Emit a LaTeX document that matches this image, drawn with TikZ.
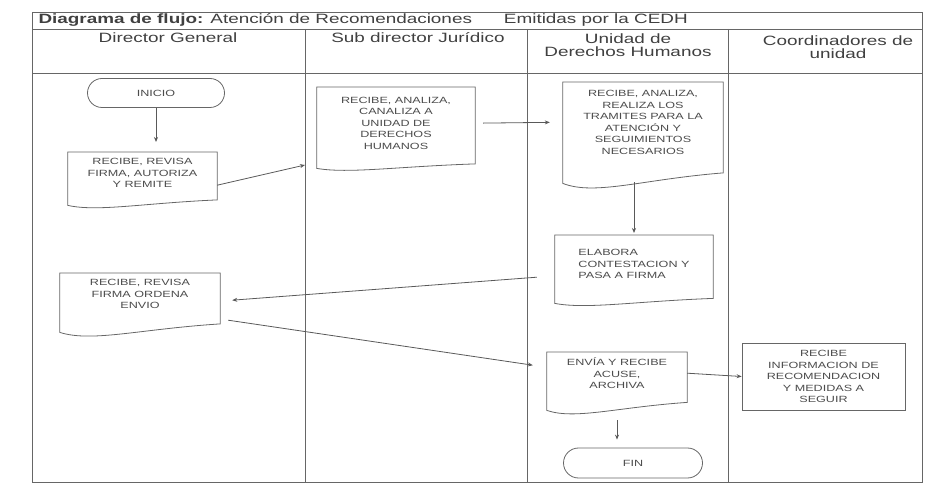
\documentclass[tikz,border=0pt]{standalone}
\usepackage{fontspec}
\setmainfont{Liberation Sans}
\newfontfamily\ancho[FakeStretch=1.4]{Liberation Sans}
\usetikzlibrary{positioning,calc,arrows.meta,shapes.misc}

\begin{document}
\begin{tikzpicture}[
			x=1pt, y=1pt,
			borde/.style={line width=0.8pt, black!60},
			flecha/.style={line width=0.8pt, black!65,
				-{Stealth[length=5pt,width=4pt]}},
			caja/.style={draw=none, inner sep=0pt, align=center,
				text=black!70, font=\ancho\fontsize{9}{11.5}\selectfont},
			terminal/.style={rounded rectangle, draw=black!60,
				line width=0.8pt, inner sep=0pt, text=black!70,
				font=\ancho\fontsize{9}{11}\selectfont},
			encabezado/.style={align=center, text=black!75,
				font=\ancho\fontsize{13.5}{13}\selectfont},
			]
			\useasboundingbox (0,0) rectangle (927,-486);
			
			%% marco y carriles
			\draw[borde] (32,-12) rectangle (922,-482);
			\draw[borde] (32,-29) -- (922,-29);
			\draw[borde] (32,-73) -- (922,-73);
			\foreach \x in {305,527,728}
				\draw[borde] (\x,-29) -- (\x,-482);
			
			% titulo y encabezados
			\node[encabezado, anchor=west] (titulo) at (35,-20)
				{\textbf{Diagrama de flujo:} Atención de Recomendaciones\hspace{32pt}Emitidas por la CEDH};
			\node[encabezado] (h1) at (168,-38) {Director General};
			\node[encabezado] (h2) at (418,-38) {Sub director Jurídico};
			\node[encabezado] (h3) at (628,-45) {Unidad de\\Derechos Humanos};
			\node[encabezado] (h4) at (838,-47) {Coordinadores de\\unidad};
			
			% actividades
			\node[terminal, minimum width=137, minimum height=29] (inicio) at (156,-93) {INICIO};
			\node[caja, anchor=north, minimum width=149, minimum height=42] (d1) at (142.5,-152)
				{RECIBE, REVISA\\FIRMA, AUTORIZA\\Y REMITE};
			\node[caja, anchor=north, minimum width=158, minimum height=72] (d2) at (396,-87)
				{RECIBE, ANALIZA,\\CANALIZA A\\UNIDAD DE\\DERECHOS\\HUMANOS};
			\node[caja, anchor=north, minimum width=160, minimum height=80] (d3) at (643,-82)
				{RECIBE, ANALIZA,\\REALIZA LOS\\TRAMITES PARA LA\\ATENCIÓN Y\\SEGUIMIENTOS\\NECESARIOS};
			\node[caja, anchor=north, align=left, minimum width=158, minimum height=58] (d4) at (634,-235)
				{ELABORA\\CONTESTACION Y\\PASA A FIRMA};
			\node[caja, anchor=north, minimum width=160, minimum height=42] (d5) at (140,-273)
				{RECIBE, REVISA\\FIRMA ORDENA\\ENVIO};
			\node[caja, anchor=north, minimum width=140, minimum height=42] (d6) at (617,-352)
				{ENVÍA Y RECIBE\\ACUSE,\\ARCHIVA};
			\node[caja, draw=black!60, line width=0.8pt, minimum width=163, minimum height=67] (d7) at (823.5,-376.5)
				{RECIBE\\INFORMACION DE\\RECOMENDACION\\Y MEDIDAS A\\SEGUIR};
			\node[terminal, minimum width=139, minimum height=30] (fin) at (633,-463) {FIN};
			
			% contorno de documento (borde inferior ondulado)
			\foreach \n/\e in {d1/11, d2/9, d3/21, d4/10, d5/17, d6/16}
				\draw[borde] (\n.north west) -- (\n.north east)
					-- ($(\n.south east)+(0,-0.5*\e)$)
					.. controls ($(\n.south east)!0.5!(\n.south west)+(0,-0.8*\e)$)
					and ($(\n.south east)!0.8!(\n.south west)+(0,-1.6*\e)$)
					.. ($(\n.south west)+(0,-\e)$) -- cycle;
			
			% flujo
			\coordinate (c1) at (305,-165);
			\draw[flecha, shorten >=10pt] (inicio.south) -- (inicio.south |- d1.north);
			\draw[flecha] ($(d1.east)+(0,-12)$) -- (c1);
			\draw[flecha, shorten <=8pt, shorten >=13pt] (d2.east) -- (d3.west);
			\draw[flecha, shorten >=2pt] ($(d3.south -| d4.north)+(0,-20)$) -- (d4.north);
			\draw[flecha] ($(d4.west)+(-18,-13)$) -- ($(d5.east)+(12,-6)$);
			\draw[flecha] ($(d5.east)+(8,-26)$) -- ($(d6.west)+(-14,8)$);
			\draw[flecha] (d6.east) -- (d7.west);
			\draw[flecha, shorten <=26pt, shorten >=8pt] (d6.south) -- (d6.south |- fin.north);
			
		\end{tikzpicture}
\end{document}
